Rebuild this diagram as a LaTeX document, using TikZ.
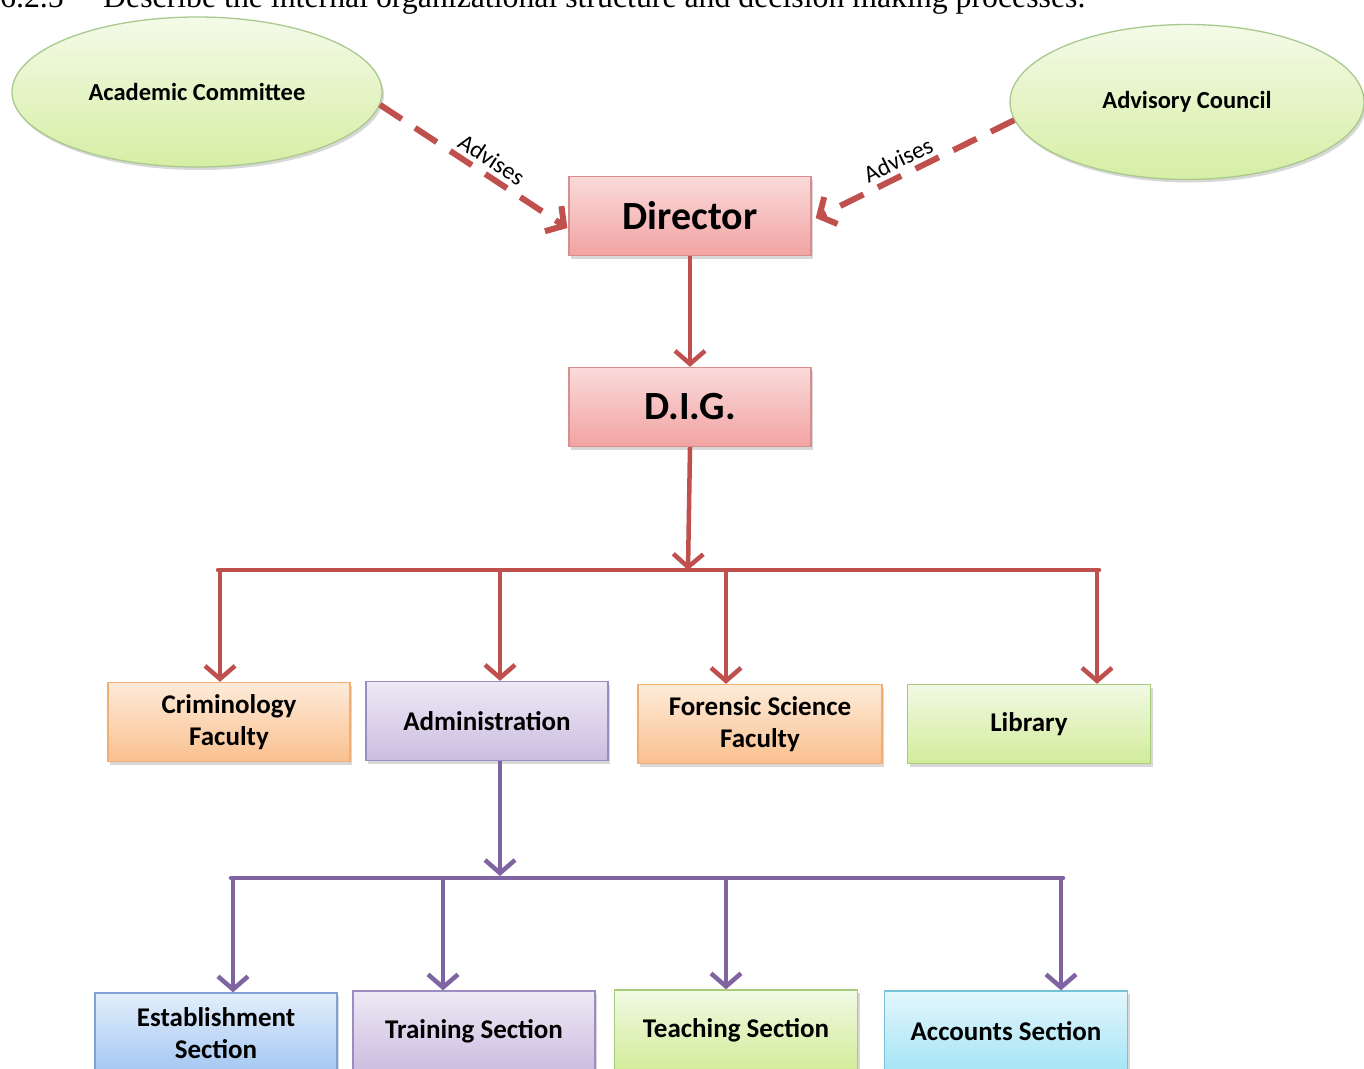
\documentclass[tikz,border=0pt]{standalone}
\usepackage{fontspec}
\setmainfont{Carlito}
\newfontfamily\timesf{Liberation Serif}
\usetikzlibrary{arrows.meta,shapes.geometric,shadows,calc}
\definecolor{redA}{HTML}{C0504D}
\definecolor{purA}{HTML}{8064A2}
\definecolor{redT}{HTML}{FADADA}\definecolor{redB}{HTML}{F2A3A3}\definecolor{redL}{HTML}{D98E8C}
\definecolor{oraT}{HTML}{FDEBD9}\definecolor{oraB}{HTML}{FAC08F}\definecolor{oraL}{HTML}{F0AE74}
\definecolor{purT}{HTML}{EEE9F5}\definecolor{purB}{HTML}{CBBDE0}\definecolor{purL}{HTML}{9C8CC2}
\definecolor{grnT}{HTML}{F1F9E4}\definecolor{grnB}{HTML}{D2EC9A}\definecolor{grnL}{HTML}{A9CC7C}
\definecolor{bluT}{HTML}{E3EEFB}\definecolor{bluB}{HTML}{A3C7F2}\definecolor{bluL}{HTML}{7FA3D5}
\definecolor{cyaT}{HTML}{E3F6FC}\definecolor{cyaB}{HTML}{A6E5F6}\definecolor{cyaL}{HTML}{78C2D8}
\definecolor{ellT}{HTML}{F4FAE8}\definecolor{ellB}{HTML}{D6EEA4}\definecolor{ellL}{HTML}{A9C98E}
\begin{document}
\begin{tikzpicture}[x=1pt,y=-1pt,
  shad/.style={drop shadow={shadow xshift=2pt,shadow yshift=-3pt,opacity=0.3}},
  box/.style={draw,line width=1.3pt,minimum width=242pt,minimum height=79pt,inner sep=2pt,align=center,
    font=\bfseries\fontsize{27}{32}\selectfont,shad},
  bigbox/.style={box,font=\bfseries\fontsize{40}{44}\selectfont},
  redbox/.style={top color=redT,bottom color=redB,draw=redL},
  orabox/.style={top color=oraT,bottom color=oraB,draw=oraL},
  purbox/.style={top color=purT,bottom color=purB,draw=purL},
  grnbox/.style={top color=grnT,bottom color=grnB,draw=grnL},
  blubox/.style={top color=bluT,bottom color=bluB,draw=bluL},
  cyabox/.style={top color=cyaT,bottom color=cyaB,draw=cyaL},
  ell/.style={ellipse,draw=ellL,line width=1.3pt,top color=ellT,bottom color=ellB,inner sep=0pt,
    font=\bfseries\fontsize{24.5}{28}\selectfont,shad},
  tip/.style={-{Straight Barb[length=13pt,width=30pt]}},
  redline/.style={draw=redA,line width=4.5pt},
  purline/.style={draw=purA,line width=4.5pt},
  advline/.style={draw=redA,line width=6pt,dash pattern=on 26pt off 16pt},
  advlab/.style={font=\fontsize{24}{28}\selectfont,sloped,above=1pt}
]
\useasboundingbox (0,0) rectangle (1364,1068);
\fill[white] (0,0) rectangle (1364,1068);

% header (cut off at the top)
\node[anchor=base west,inner sep=0pt,font=\timesf\fontsize{31.8}{34}\selectfont] (hnum) at (0,7) {6.2.5};
\node[anchor=base west,inner sep=0pt,font=\timesf\fontsize{31.8}{34}\selectfont] (htext) at (103,7)
  {Describe the internal organizational structure and decision making processes.};

% ellipses
\node[ell,minimum width=370pt,minimum height=150pt] (acad) at (197,92) {Academic Committee};
\node[ell,minimum width=354pt,minimum height=155pt] (adv) at (1187,102) {Advisory Council};

% boxes
\node[bigbox,redbox] (dir) at (690,216) {Director};
\node[bigbox,redbox] (dig) at (690,407) {D.I.G.};

\node[box,orabox] (crim) at (229,722) {Criminology\\Faculty};
\node[box,purbox] (admin) at (487,721) {Administration};
\node[box,orabox,minimum width=244pt] (for) at (760,724) {Forensic Science\\Faculty};
\node[box,grnbox,minimum width=243pt] (lib) at (1029,724) {Library};

\node[box,blubox,minimum height=80pt] (est) at (216,1033) {Establishment\\Section};
\node[box,purbox,minimum height=80pt] (tra) at (474,1031) {Training Section};
\node[box,grnbox,minimum width=243pt,minimum height=80pt] (tea) at (736,1030) {Teaching Section};
\node[box,cyabox,minimum width=243pt,minimum height=80pt] (acc) at (1006,1031) {Accounts Section};

% advisory connectors
\draw[advline,tip] (acad.-4) -- ([yshift=-12pt,xshift=-1pt]dir.west)
  node[advlab,pos=0.55] (lab1) {Advises};
\draw[advline,tip] (adv.186) -- ([yshift=-2pt,xshift=4pt]dir.east)
  node[advlab,pos=0.55] (lab2) {Advises};

% red hierarchy
\draw[redline,tip] (dir.south) -- (dig.north);
\coordinate (b0) at (688,570);
\coordinate (b1) at (220,570);
\coordinate (b2) at (500,570);
\coordinate (b3) at (726,570);
\coordinate (b4) at (1097,570);
\draw[redline,tip] (dig.south) -- (b0);
\draw[redline,line cap=round] ([xshift=-2pt]b1) -- ([xshift=2pt]b4);
\draw[redline,tip] (b1) -- (b1 |- crim.north);
\draw[redline,tip] (b2) -- (b2 |- admin.north);
\draw[redline,tip] (b3) -- (b3 |- for.north);
\draw[redline,tip] (b4) -- (b4 |- lib.north);

% purple hierarchy
\coordinate (p0) at (500,876);
\coordinate (p1) at (233,878);
\coordinate (p2) at (443,878);
\coordinate (p3) at (726,878);
\coordinate (p4) at (1061,878);
\draw[purline,tip] (p0 |- admin.south) -- (p0);
\draw[purline,line cap=round] ([xshift=-2pt]p1) -- ([xshift=2pt]p4);
\draw[purline,tip] (p1) -- (p1 |- est.north);
\draw[purline,tip] (p2) -- (p2 |- tra.north);
\draw[purline,tip] (p3) -- (p3 |- tea.north);
\draw[purline,tip] (p4) -- (p4 |- acc.north);
\end{tikzpicture}
\end{document}
